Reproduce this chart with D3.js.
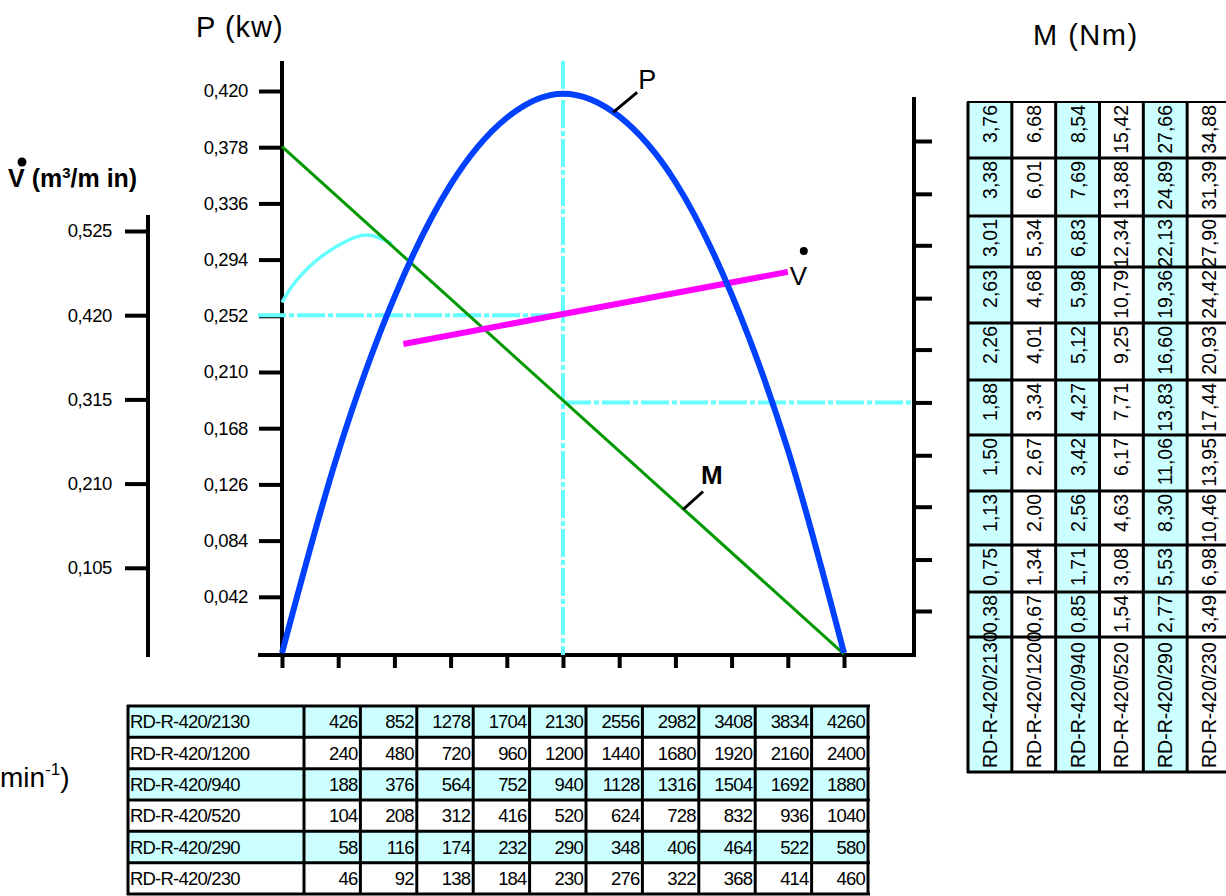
<!DOCTYPE html>
<html>
<head>
<meta charset="utf-8">
<script src="https://cdn.jsdelivr.net/npm/d3@7"></script>
<style>
body { margin: 0; background: #fff; }
svg { display: block; font-family: "Liberation Sans", Arial, sans-serif; }
</style>
</head>
<body>
<svg id="chart" width="1226" height="896"></svg>
<script>
// modelos das bombas
var modelos = ["RD-R-420/2130", "RD-R-420/1200", "RD-R-420/940", "RD-R-420/520", "RD-R-420/290", "RD-R-420/230"];

// rotações (min-1) de cada modelo, tabela de baixo
var rpm2130 = [426, 852, 1278, 1704, 2130, 2556, 2982, 3408, 3834, 4260];
var rpm1200 = [240, 480, 720, 960, 1200, 1440, 1680, 1920, 2160, 2400];
var rpm940  = [188, 376, 564, 752, 940, 1128, 1316, 1504, 1692, 1880];
var rpm520  = [104, 208, 312, 416, 520, 624, 728, 832, 936, 1040];
var rpm290  = [58, 116, 174, 232, 290, 348, 406, 464, 522, 580];
var rpm230  = [46, 92, 138, 184, 230, 276, 322, 368, 414, 460];

// torque M (Nm) de cada modelo, tabela da direita (de baixo para cima)
var m2130 = [0.38, 0.75, 1.13, 1.50, 1.88, 2.26, 2.63, 3.01, 3.38, 3.76];
var m1200 = [0.67, 1.34, 2.00, 2.67, 3.34, 4.01, 4.68, 5.34, 6.01, 6.68];
var m940  = [0.85, 1.71, 2.56, 3.42, 4.27, 5.12, 5.98, 6.83, 7.69, 8.54];
var m520  = [1.54, 3.08, 4.63, 6.17, 7.71, 9.25, 10.79, 12.34, 13.88, 15.42];
var m290  = [2.77, 5.53, 8.30, 11.06, 13.83, 16.60, 19.36, 22.13, 24.89, 27.66];
var m230  = [3.49, 6.98, 10.46, 13.95, 17.44, 20.93, 24.42, 27.90, 31.39, 34.88];

// marcas dos eixos
var pTicks = [0.042, 0.084, 0.126, 0.168, 0.210, 0.252, 0.294, 0.336, 0.378, 0.420];
var vTicks = [0.105, 0.210, 0.315, 0.420, 0.525];

// curva P (kw) em função da rotação
var potN = [0, 426, 852, 1278, 1704, 2130, 2556, 2982, 3408, 3834, 4260];
var potP = [0, 0.150, 0.266, 0.350, 0.400, 0.418, 0.401, 0.352, 0.268, 0.152, 0];

// vazão V (m3/min) - reta magenta
var vazN = [920, 3834];
var vazV = [0.384, 0.474];

// curva ciano à esquerda (escala de vazão)
var cianoN = [0, 61, 212, 417, 644, 834];
var cianoV = [0.436, 0.4525, 0.481, 0.506, 0.520, 0.509];

// reta do torque M
var torN = [0, 4260];
var torM = [3.72, 0.07];

// ponto nominal
var nNominal = 2130, vNominal = 0.420, mNominal = 1.88;

var rpmTab = [rpm2130, rpm1200, rpm940, rpm520, rpm290, rpm230];
var mTab = [m2130, m1200, m940, m520, m290, m230];

var svg = d3.select("#chart");
var virgula = function (f) { return function (d) { return f(d).replace(".", ","); }; };

// escalas
var x = d3.scaleLinear().domain([0, 4260]).range([282, 844]);
var pY = d3.scaleLinear().domain([0, 0.42]).range([653, 91]);
var vY = d3.scaleLinear().domain([0, 0.525]).range([652, 231]);
var mY = d3.scaleLinear().domain([0.38, 3.76]).range([611, 141]);

var azulClaro = "#66ffff";

// eixo P
var gP = svg.append("g").attr("transform", "translate(282,0)")
  .call(d3.axisLeft(pY).tickValues(pTicks).tickSize(23).tickPadding(11).tickSizeOuter(0).tickFormat(virgula(d3.format(".3f"))));
// eixo V
var gV = svg.append("g").attr("transform", "translate(148,0)")
  .call(d3.axisLeft(vY).tickValues(vTicks).tickSize(23).tickPadding(13).tickSizeOuter(0).tickFormat(virgula(d3.format(".3f"))));
// eixo M (direita)
var gM = svg.append("g").attr("transform", "translate(914,0)")
  .call(d3.axisRight(mY).tickValues(m2130).tickSize(18).tickSizeOuter(0).tickFormat(""));
// eixo x
var gX = svg.append("g").attr("transform", "translate(0,655)")
  .call(d3.axisBottom(x).tickValues([0].concat(rpm2130)).tickSize(13).tickSizeOuter(0).tickFormat(""));

[gP, gV, gM, gX].forEach(function (g) {
  g.select(".domain").remove();
  g.selectAll(".tick line").attr("stroke", "#000").attr("stroke-width", 4);
  g.selectAll(".tick text").attr("fill", "#000").attr("font-size", 18.5).attr("letter-spacing", -0.4)
    .attr("font-family", "'Liberation Sans', Arial, sans-serif");
});

// linhas dos eixos
var eixos = [
  [282, 61, 282, 657],
  [148, 215, 148, 657],
  [914, 97, 914, 657],
  [258, 655, 916, 655]
];
svg.selectAll("line.eixo").data(eixos).enter().append("line").attr("class", "eixo")
  .attr("x1", function (d) { return d[0]; }).attr("y1", function (d) { return d[1]; })
  .attr("x2", function (d) { return d[2]; }).attr("y2", function (d) { return d[3]; })
  .attr("stroke", "#000").attr("stroke-width", 4);

// linhas tracejadas do ponto nominal
var tracejado = "28 3 5 3";
svg.append("line").attr("x1", 258).attr("x2", x(nNominal)).attr("y1", vY(vNominal)).attr("y2", vY(vNominal))
  .attr("stroke", azulClaro).attr("stroke-width", 4).attr("stroke-dasharray", tracejado);
svg.append("line").attr("x1", x(nNominal)).attr("x2", x(nNominal)).attr("y1", 61).attr("y2", 655)
  .attr("stroke", azulClaro).attr("stroke-width", 4).attr("stroke-dasharray", tracejado);
svg.append("line").attr("x1", x(nNominal)).attr("x2", 914).attr("y1", mY(mNominal)).attr("y2", mY(mNominal))
  .attr("stroke", azulClaro).attr("stroke-width", 4).attr("stroke-dasharray", tracejado);

// curva ciano
svg.append("path")
  .datum(cianoN.map(function (n, i) { return [n, cianoV[i]]; }))
  .attr("fill", "none").attr("stroke", azulClaro).attr("stroke-width", 3.5)
  .attr("d", d3.line().x(function (d) { return x(d[0]); }).y(function (d) { return vY(d[1]); }).curve(d3.curveMonotoneX));

// reta M
svg.append("path")
  .datum(torN.map(function (n, i) { return [n, torM[i]]; }))
  .attr("fill", "none").attr("stroke", "#009900").attr("stroke-width", 3)
  .attr("d", d3.line().x(function (d) { return x(d[0]); }).y(function (d) { return mY(d[1]); }));

// reta V
svg.append("path")
  .datum(vazN.map(function (n, i) { return [n, vazV[i]]; }))
  .attr("fill", "none").attr("stroke", "#ff00ff").attr("stroke-width", 6)
  .attr("d", d3.line().x(function (d) { return x(d[0]); }).y(function (d) { return vY(d[1]); }));

// curva P
svg.append("path")
  .datum(potN.map(function (n, i) { return [n, potP[i]]; }))
  .attr("fill", "none").attr("stroke", "#0040ff").attr("stroke-width", 6)
  .attr("d", d3.line().x(function (d) { return x(d[0]); }).y(function (d) { return pY(d[1]); }).curve(d3.curveMonotoneX));

// rótulos das curvas
var lp = [x(2510), pY(0.404)];
svg.append("line").attr("x1", lp[0]).attr("y1", lp[1]).attr("x2", lp[0] + 24).attr("y2", lp[1] - 20)
  .attr("stroke", "#000").attr("stroke-width", 3);
svg.append("text").attr("x", lp[0] + 25).attr("y", lp[1] - 23).attr("font-size", 27).text("P");

var lm = [x(3040), mY(1.11)];
svg.append("line").attr("x1", lm[0]).attr("y1", lm[1]).attr("x2", lm[0] + 20).attr("y2", lm[1] - 18)
  .attr("stroke", "#000").attr("stroke-width", 3);
svg.append("text").attr("x", lm[0] + 18).attr("y", lm[1] - 25).attr("font-size", 26).attr("font-weight", "bold").text("M");

var lv = [x(3834), vY(0.474)];
svg.append("text").attr("x", lv[0] + 2).attr("y", lv[1] + 13).attr("font-size", 26).text("V");
svg.append("circle").attr("cx", lv[0] + 16).attr("cy", lv[1] - 21).attr("r", 4).attr("fill", "#000");

// títulos dos eixos
svg.append("text").attr("x", 196).attr("y", 37).attr("font-size", 29).attr("letter-spacing", 1).text("P (kw)");
svg.append("text").attr("x", 1033).attr("y", 45).attr("font-size", 29).attr("letter-spacing", 1.5).text("M (Nm)");
var tv = svg.append("text").attr("x", 8).attr("y", 187).attr("font-size", 25).attr("font-weight", "bold");
tv.append("tspan").text("V");
tv.append("tspan").text(" (m");
tv.append("tspan").attr("font-size", 15).attr("dy", -9).text("3");
tv.append("tspan").attr("dy", 9).text("/m in)");
svg.append("circle").attr("cx", 22).attr("cy", 162).attr("r", 4.5).attr("fill", "#000");

var tn = svg.append("text").attr("x", 0).attr("y", 787).attr("font-size", 28);
tn.append("tspan").text("min");
tn.append("tspan").attr("font-size", 17).attr("dy", -12).text("-1");
tn.append("tspan").attr("dy", 12).text(")");

// tabela de baixo (rotações)
var cianoTab = "#ccffff";
var linhaB = d3.scaleBand().domain(d3.range(6)).range([706, 894]);
var colB = d3.scaleBand().domain(d3.range(10)).range([304, 868]);
var tb = svg.append("g").attr("font-size", 18.5).attr("letter-spacing", -0.8);
modelos.forEach(function (m, i) {
  tb.append("rect").attr("x", 128).attr("y", linhaB(i)).attr("width", 740).attr("height", linhaB.bandwidth())
    .attr("fill", i % 2 === 0 ? cianoTab : "#fff");
  tb.append("text").attr("x", 130).attr("y", linhaB(i) + linhaB.bandwidth() / 2).attr("dy", "0.36em").text(m);
  tb.selectAll("text.v" + i).data(rpmTab[i]).enter().append("text").attr("class", "v" + i)
    .attr("x", function (d, j) { return colB(j) + colB.bandwidth() - 3; })
    .attr("y", linhaB(i) + linhaB.bandwidth() / 2).attr("dy", "0.36em").attr("text-anchor", "end")
    .text(function (d) { return d; });
});
d3.range(7).forEach(function (i) {
  var y = i < 6 ? linhaB(i) : 894;
  tb.append("line").attr("x1", 127).attr("x2", 870).attr("y1", y).attr("y2", y).attr("stroke", "#000").attr("stroke-width", 3);
});
[128].concat(d3.range(11).map(function (j) { return j < 10 ? colB(j) : 868; })).forEach(function (cx) {
  tb.append("line").attr("x1", cx).attr("x2", cx).attr("y1", 705).attr("y2", 895).attr("stroke", "#000").attr("stroke-width", 3);
});

// tabela da direita (torques)
var alturas = [56, 58, 51, 56, 57, 55, 56, 54, 47, 45, 135];
var topos = [102];
alturas.forEach(function (h, i) { topos.push(topos[i] + h); });
var colR = d3.scaleBand().domain(d3.range(6)).range([968, 1231]);
var tr = svg.append("g").attr("font-size", 19.5);
var fmt2 = virgula(d3.format(".2f"));
modelos.forEach(function (m, j) {
  var cx = colR(j) + colR.bandwidth() / 2;
  tr.append("rect").attr("x", colR(j)).attr("y", topos[0]).attr("width", colR.bandwidth()).attr("height", topos[11] - topos[0])
    .attr("fill", j % 2 === 0 ? cianoTab : "#fff");
  mTab[j].forEach(function (v, k) {
    var r = 9 - k;
    tr.append("text").attr("transform", "translate(" + cx + "," + (topos[r] + 3) + ") rotate(-90)")
      .attr("dy", "0.36em").attr("text-anchor", "end").text(fmt2(v));
  });
  tr.append("text").attr("transform", "translate(" + cx + "," + (topos[11] - 4) + ") rotate(-90)")
    .attr("dy", "0.36em").text(m);
});
topos.forEach(function (y, i) {
  tr.append("line").attr("x1", 967).attr("x2", 1226).attr("y1", y).attr("y2", y)
    .attr("stroke", "#000").attr("stroke-width", i === 0 ? 2 : 3);
});
d3.range(6).forEach(function (j) {
  tr.append("line").attr("x1", colR(j)).attr("x2", colR(j)).attr("y1", topos[0]).attr("y2", topos[11] + 1)
    .attr("stroke", "#000").attr("stroke-width", 3);
});
</script>
</body>
</html>
